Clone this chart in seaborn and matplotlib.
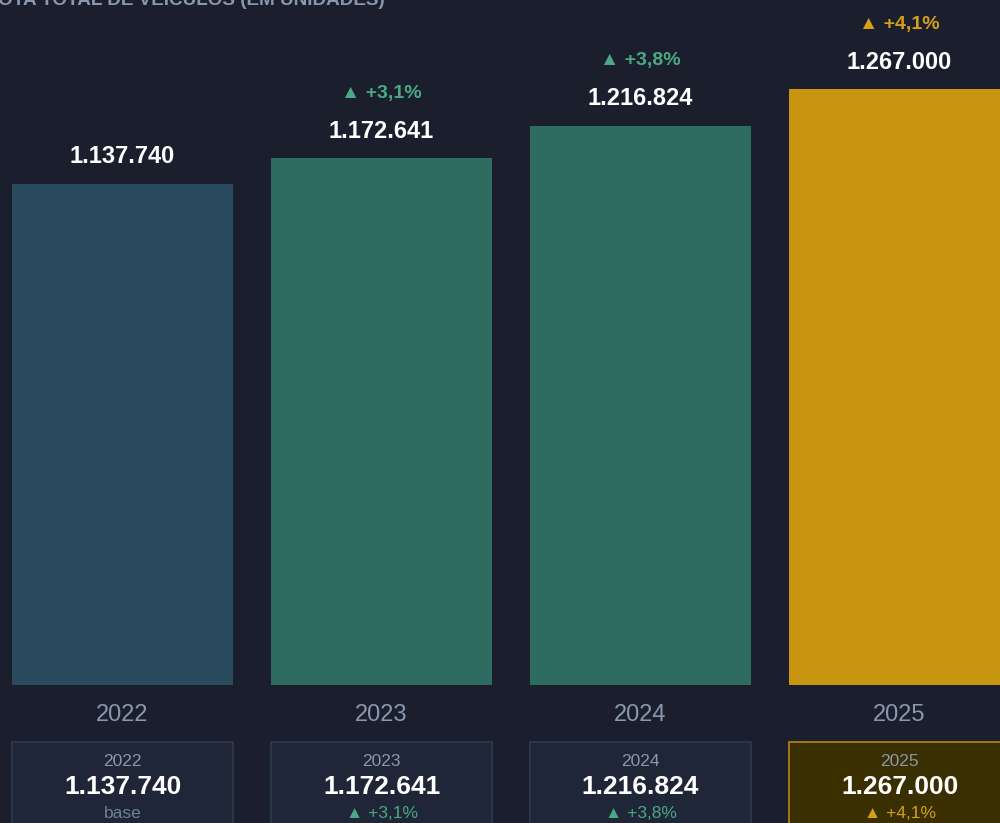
import matplotlib
matplotlib.use('Agg')
import matplotlib.pyplot as plt
import seaborn as sns
import pandas as pd

# Dados: frota total de veículos
anos = ['2022', '2023', '2024', '2025']
frota = [1137740, 1172641, 1216824, 1267000]
variacao = ['', '▲ +3,1%', '▲ +3,8%', '▲ +4,1%']
card_sub = ['base', '▲ +3,1%', '▲ +3,8%', '▲ +4,1%']

cores_barra = ['#2a4a5e', '#2e6b60', '#2e6b60', '#c8950e']
cores_var = ['#6b8299', '#4aa883', '#4aa883', '#d4a017']
cores_card = ['#1f2637', '#1f2637', '#1f2637', '#3a2f00']
bordas_card = ['#2c3a4e', '#2c3a4e', '#2c3a4e', '#b8860b']

BG = '#1b1f2d'
FONT = ['Liberation Sans', 'DejaVu Sans']


def fmt(v):
    return f'{v:,}'.replace(',', '.')


def main():
    sns.set_theme(style='dark')
    plt.rcParams['font.family'] = FONT

    df = pd.DataFrame({'ano': anos, 'frota': frota})

    fig = plt.figure(figsize=(10, 8.23), dpi=100, facecolor=BG)
    H = 823.0
    ax = fig.add_axes([0, (H - 685) / H, 1, 685 / H])
    ax.set_facecolor(BG)

    sns.barplot(data=df, x='ano', y='frota', hue='ano', palette=cores_barra,
                width=0.853, legend=False, ax=ax, saturation=1, linewidth=0)

    ax.set_xlim(-0.473, 3.388)
    ax.set_ylim(453805, 453805 + 685 / 7.328e-4)
    for s in ax.spines.values():
        s.set_visible(False)
    ax.set_yticks([])
    ax.set_xlabel('')
    ax.set_ylabel('')
    ax.tick_params(axis='x', length=0, pad=14, labelsize=17, labelcolor='#8a98ad')
    ax.grid(False)

    for i, v in enumerate(frota):
        ax.annotate(fmt(v), (i, v), xytext=(0, 27), textcoords='offset pixels',
                    ha='center', va='center', color='white', fontsize=17,
                    fontweight='bold')
        if variacao[i]:
            ax.annotate(variacao[i], (i, v), xytext=(0, 65), textcoords='offset pixels',
                        ha='center', va='center', color=cores_var[i], fontsize=14,
                        fontweight='bold')

    # Cartões de resumo
    axc = fig.add_axes([0, 0, 1, 82 / H])
    axc.set_facecolor(BG)
    axc.set_xlim(-0.473, 3.388)
    axc.set_ylim(82, 0)
    axc.bar(range(len(anos)), [100] * len(anos), bottom=0.5, width=0.853,
            color=cores_card, edgecolor=bordas_card, linewidth=1.2)
    axc.axis('off')
    for i, v in enumerate(frota):
        axc.text(i, 20, anos[i], ha='center', va='center', color='#8a98ad', fontsize=12.5)
        axc.text(i, 46, fmt(v), ha='center', va='center', color='white',
                 fontsize=19, fontweight='bold')
        axc.text(i, 72, card_sub[i], ha='center', va='center', color=cores_var[i],
                 fontsize=12.5)

    # Título (parcialmente fora da figura)
    fig.text(385 / 1000, 1 - 5 / H, 'FROTA TOTAL DE VEÍCULOS (EM UNIDADES)',
             ha='right', va='baseline', color='#8a98ad', fontsize=13.6, fontweight='bold')

    fig.savefig('out.png', dpi=100, facecolor=BG)
    plt.close(fig)


if __name__ == '__main__':
    main()
